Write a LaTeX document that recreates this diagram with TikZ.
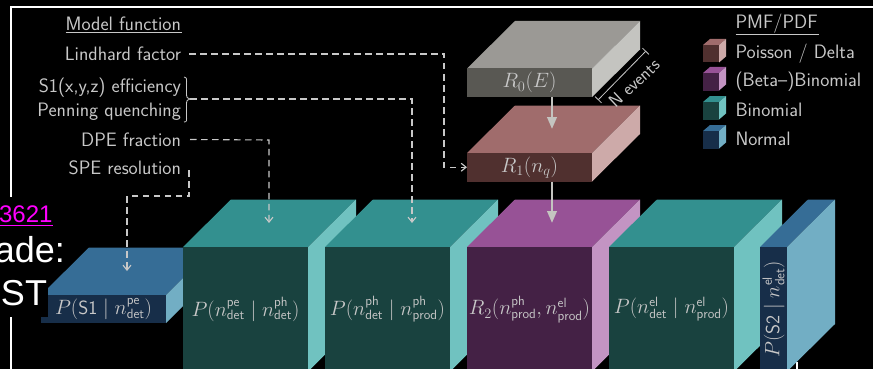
\documentclass[tikz,border=0pt]{standalone}
\usepackage{fontspec}
\newfontfamily\arialf{Liberation Sans}
\usetikzlibrary{arrows.meta}
\definecolor{greyF}{HTML}{595853}\definecolor{greyT}{HTML}{9B9995}\definecolor{greyS}{HTML}{C4C4C0}
\definecolor{roseF}{HTML}{50302F}\definecolor{roseT}{HTML}{A06C6C}\definecolor{roseS}{HTML}{CDAAA9}
\definecolor{plumF}{HTML}{442145}\definecolor{plumT}{HTML}{975296}\definecolor{plumS}{HTML}{C394C3}
\definecolor{tealF}{HTML}{19423F}\definecolor{tealT}{HTML}{33908F}\definecolor{tealS}{HTML}{70C2C0}
\definecolor{blueF}{HTML}{172E49}\definecolor{blueT}{HTML}{366D96}\definecolor{blueS}{HTML}{72AEC4}
\definecolor{inkc}{HTML}{C8C8C8}
\definecolor{linkc}{HTML}{FF00FF}
\tikzset{
 cubefront/.style={inner sep=0pt,outer sep=0pt,text=inkc,font=\fontsize{19.2}{22}\selectfont},
 modelitem/.style={inner sep=0pt,outer sep=0pt,anchor=base east,text=inkc,text height=14pt,text depth=1pt,font=\sffamily\fontsize{19.4}{22}\selectfont},
 legenditem/.style={inner sep=0pt,outer sep=0pt,anchor=base west,text=inkc,font=\sffamily\fontsize{19.4}{22}\selectfont},
 overlaytext/.style={inner sep=0pt,outer sep=0pt,anchor=base east,text=white,font=\arialf\fontsize{36}{40}\selectfont},
 dashlink/.style={draw=inkc,line width=1.1pt,dash pattern=on 6.5pt off 4.5pt,-{Straight Barb[length=5pt,width=8pt,line width=1.1pt]}},
 flowlink/.style={draw=greyS,line width=2.4pt,-{Triangle[length=12pt,width=9.5pt]}},
 thin rule/.style={draw=inkc,line width=0.8pt},
}
\newcommand{\cubebox}[9]{%
 \fill[#6T] (#2,#3)--++(#8,-#9)--++(#4,0)--++(-#8,#9)--cycle;
 \fill[#6S] (#2+#4,#3)--++(#8,-#9)--++(0,#5)--++(-#8,#9)--cycle;
 \node[cubefront,fill=#6F,minimum width=#4pt,minimum height=#5pt,anchor=north west] (#1) at (#2,#3) {#7};}
\begin{document}
\begin{tikzpicture}[x=1pt,y=-1pt]
\useasboundingbox (0,0) rectangle (873,369);
\fill[black] (0,0) rectangle (873,369);
% frame
\draw[white,line width=2pt] (10.5,372)--(10.5,6.7)--(875,6.7);
\draw[white,line width=1.5pt] (797,362)--(797,372);
% large cubes
\cubebox{sone}{41}{295}{125}{28}{blue}{$P(\mathsf{S1}\mid n^{\mathsf{pe}}_{\mathsf{det}})$}{48}{47.5}
\cubebox{detpe}{183}{247}{125}{124.5}{teal}{$P(n^{\mathsf{pe}}_{\mathsf{det}}\mid n^{\mathsf{ph}}_{\mathsf{det}})$}{48}{47.5}
\cubebox{detph}{325}{247}{125}{124.5}{teal}{$P(n^{\mathsf{ph}}_{\mathsf{det}}\mid n^{\mathsf{ph}}_{\mathsf{prod}})$}{48}{47.5}
\cubebox{rtwo}{467}{247}{125}{124.5}{plum}{$R_2(n^{\mathsf{ph}}_{\mathsf{prod}},n^{\mathsf{el}}_{\mathsf{prod}})$}{48}{47.5}
\cubebox{detel}{609}{247}{125}{124.5}{teal}{$P(n^{\mathsf{el}}_{\mathsf{det}}\mid n^{\mathsf{el}}_{\mathsf{prod}})$}{48}{47.5}
\cubebox{stwo}{760}{247}{27}{124.5}{blue}{\rotatebox{90}{$P(\mathsf{S2}\mid n^{\mathsf{el}}_{\mathsf{det}})$}}{48}{47.5}
\cubebox{rzero}{467}{68.5}{125}{28.5}{grey}{$R_0(E)$}{48}{47.5}
\cubebox{rone}{467}{153}{125}{28.5}{rose}{$R_1(n_q)$}{48}{47.5}
% overlay text with its backing
\fill[black] (-1,197) rectangle (48,317);
\node[overlaytext,text=linkc,font=\arialf\fontsize{24}{28}\selectfont] (linktext) at (52.5,222) {3621};
\draw[linkc,line width=1.6pt] (-1,225.5)--(53,225.5);
\node[overlaytext] (adetext) at (65,262) {ade:};
\node[overlaytext] (sttext) at (47,305) {ST};
% model list
\node[modelitem] (modelhead) at (181,30.5) {Model function};
\draw[thin rule] (65.5,32.3)--(181.5,32.3);
\node[modelitem] (lind) at (181,60.5) {Lindhard factor};
\node[modelitem] (sone eff) at (181,92.5) {S1(x,y,z) efficiency};
\node[modelitem] (penning) at (181,116.5) {Penning quenching};
\node[modelitem] (dpe) at (181,146) {DPE fraction};
\node[modelitem] (spe) at (181,174) {SPE resolution};
\coordinate (bracetip) at (190,99);
\draw[thin rule] (184,77) .. controls (187.5,77.5) and (186.5,80) .. (186.5,84) -- (186.5,93) .. controls (186.5,97) and (187,99) .. (bracetip) .. controls (187,99) and (186.5,101) .. (186.5,105) -- (186.5,115) .. controls (186.5,120) and (187.5,122) .. (184,122);
% connectors
\coordinate (lindturn) at (444,54);
\coordinate (pennturn) at (412,99);
\coordinate (dpeturn) at (269,140);
\coordinate (spetop) at (189,170);
\coordinate (speturn) at (189,196);
\coordinate (spedown) at (127,196);
\coordinate (pennend) at (412,223);
\coordinate (dpeend) at (269,223);
\coordinate (speend) at (127,271);
\draw[dashlink] ([xshift=8pt]lind.east) -- (lindturn) |- (rone.west);
\draw[dashlink] (bracetip) -- (pennturn) -- (pennend);
\draw[dashlink] ([xshift=9pt]dpe.east) -- (dpeturn) -- (dpeend);
\draw[dashlink] (spetop) -- (speturn) -- (spedown) -- (speend);
\coordinate (ronetip) at (552,129);
\coordinate (rtwotip) at (552,223);
\draw[flowlink] (rzero.south -| ronetip) -- (ronetip);
\draw[flowlink] (rone.south -| rtwotip) -- (rtwotip);
% N events
\coordinate (nA) at (598,100);
\coordinate (nB) at (646,51);
\draw[thin rule,{|[width=9pt]}-{|[width=9pt]}] (nA) -- (nB);
\node[inner sep=0pt,text=inkc,rotate=43,font=\sffamily\fontsize{18}{20}\selectfont] (nev) at (634,83) {N events};
% legend
\node[legenditem] (leghead) at (735.5,28.3) {PMF/PDF};
\draw[thin rule] (735.5,34.7)--(819,34.7);
\cubebox{legrose}{703}{45}{16}{17.5}{rose}{}{7}{6}
\cubebox{legplum}{703}{73}{16}{17.5}{plum}{}{7}{6}
\cubebox{legteal}{703}{102}{16}{17.5}{teal}{}{7}{6}
\cubebox{legblue}{703}{131}{16}{17.5}{blue}{}{7}{6}
\node[legenditem] (legA) at (735.5,59) {Poisson / Delta};
\node[legenditem] (legB) at (735.5,87) {(Beta--)Binomial};
\node[legenditem] (legC) at (735.5,117) {Binomial};
\node[legenditem] (legD) at (735.5,145.7) {Normal};
\end{tikzpicture}
\end{document}
